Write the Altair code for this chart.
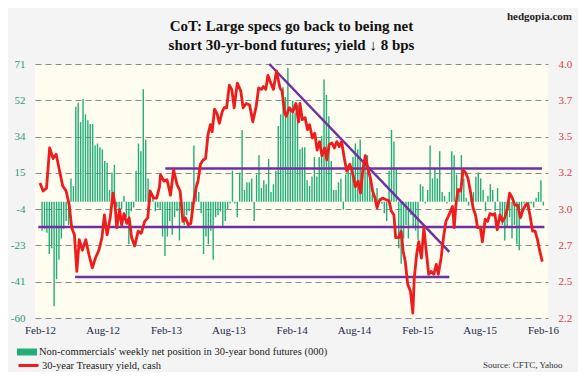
import altair as alt
import pandas as pd

# ---------------- data ----------------
title_lines = ["CoT: Large specs go back to being net",
               "short 30-yr-bond futures; yield \u2193 8 bps"]
site_label = ["hedgopia.com"]
source_label = "Source: CFTC, Yahoo"
bar_label = "Non-commercials' weekly net position in 30-year bond futures (000)"
line_label = "30-year Treasury yield, cash"

# weekly net position (000 contracts), one value per week from bar_start
bar_start = "2012-02-07"
net_position = [
    -15, -14, -16, -27, -24, -54, -40, -30, -19, -14, -10, -12, 12, 8, 49, 51, 41, 53, 45, 42,
    40, 40, 29, 30, 28, 27, 21, 20, 6, 15, 19, -3, -6, -4, 3, -8, -22, -5, -3, 16,
    30, 26, 58, 32, 12, 5, 3, -5, -3, -4,
    -18, -28, -18, -10, -17, -8, -5, -20, -8, -12, -7, -5, -9, 29, 10, 5, -6, -27, -18, -22,
    -15, -30, -8, -7, -5, -13, -10, -4, -1, 16, -1, -8, 15, 37, 6, 10, 10, 12, -10, 14,
    24, 7, 11, 9, 22, 5, 9, 16, 39, 45, 59, 54, 69, 47,
    52, 46, 50, 27, 28, 28, 11, 8, 13, 23, 13, 23, 34, 63, 55, 44, 21, 6, 6, 10, 12,
    -4, 14, 19, 15, 23, 30, 27, 32, 17, 23, 24, 14, 4, 2, 7, 2, -1, -6, -10, 16,
    37, 31, 17, -24, -32, -19, -12, -19, -7, -13,
    -15, -20, 9, 8, -1, 6, 29, 12, 17, 12, 26, 5, 3, -1, 5, 26, 24, 14, 5, 24,
    12, 2, -2, 5, 5, 13, 15, 12, 6, -5, 3, 9, 6, -5, 7, -8, -12, -20, -13, -8,
    -19, -12, -22, -25, -8, -1, -1, -5, -1, -3, 2, 5, 11, -2,
]

# 30-year yield: days after yield_base, and the yield (%)
yield_base = "2012-02-01"
yield_days = [
    0, 9, 19, 28, 38, 47, 57, 66, 76, 85, 92, 100, 107, 114, 123, 133, 142, 152, 161, 171,
    180, 187, 195, 204, 212, 218, 223, 231, 237, 244, 252, 259, 266, 275, 285, 294, 304, 313, 320, 330,
    339, 347,
    350, 360, 369, 379, 388, 398, 407, 415, 422, 431, 438, 445, 453, 459, 466, 474, 481, 488, 495, 500,
    507, 514, 521, 529, 535, 542, 550, 557, 564, 573, 583, 590, 599, 609, 618, 628, 635, 643, 649, 656,
    662, 668, 678, 687, 697, 703, 711,
    715, 724, 734, 743, 751, 755, 762, 770, 777, 783, 791, 798, 805, 812, 819, 827, 833, 840, 848, 855,
    862, 869, 876, 884, 891, 900, 909, 916, 924, 931, 938, 945, 952, 960, 966, 973, 979, 985, 995, 1004,
    1014, 1020, 1028, 1033, 1042, 1049, 1055, 1061, 1068, 1076, 1083,
    1087, 1094, 1100, 1108, 1115, 1122, 1129, 1136, 1144, 1151, 1157, 1165, 1172, 1179, 1186, 1193, 1198, 1203, 1208, 1214,
    1222, 1229, 1236, 1243, 1250, 1258, 1265, 1271, 1279, 1285, 1293, 1300, 1307, 1315, 1321, 1328, 1336, 1343, 1350, 1357,
    1364, 1372, 1379, 1388, 1395, 1402, 1410, 1416, 1423, 1431, 1438, 1445, 1452, 1459,
]
yield_pct = [
    3.157, 3.10, 3.12, 3.405, 3.33, 3.36, 3.24, 3.135, 3.10, 3.00, 2.84, 2.79, 2.53, 2.755, 2.68, 2.755, 2.65, 2.555, 2.625, 2.68,
    2.77, 2.93, 2.79, 2.91, 3.085, 3.00, 2.84, 2.97, 2.86, 2.94, 2.87, 2.91, 2.77, 2.71, 2.815, 2.80, 2.885, 2.91, 3.10, 3.05,
    3.05, 3.13,
    3.215, 3.17, 3.18, 3.07, 3.25, 3.145, 3.10, 2.885, 2.91, 2.86, 2.87, 3.00, 3.12, 3.17, 3.29, 3.32, 3.33, 3.50, 3.57, 3.52,
    3.68, 3.65, 3.58, 3.66, 3.69, 3.69, 3.85, 3.82, 3.69, 3.865, 3.81, 3.69, 3.72, 3.71, 3.59, 3.70, 3.83, 3.82, 3.84, 3.82,
    3.92, 3.88, 3.82, 3.95, 3.83, 3.81, 3.65,
    3.63, 3.69, 3.66, 3.72, 3.59, 3.72, 3.605, 3.62, 3.535, 3.57, 3.475, 3.51, 3.39, 3.45, 3.35, 3.405, 3.32, 3.43, 3.44, 3.405,
    3.45, 3.415, 3.45, 3.33, 3.24, 3.29, 3.215, 3.13, 3.17, 3.085, 3.26, 3.35, 3.26, 3.19, 3.10, 3.05, 2.98, 3.03, 3.05, 3.04,
    3.03, 2.96, 2.93, 2.77, 2.77, 2.815, 2.67, 2.60, 2.44, 2.39, 2.235,
    2.48, 2.65, 2.74, 2.625, 2.84, 2.67, 2.51, 2.53, 2.51, 2.58, 2.51, 2.625, 2.77, 2.885, 2.92, 2.96, 2.99, 2.84, 3.00, 3.11,
    3.10, 3.25, 3.23, 3.19, 3.10, 2.98, 2.93, 2.84, 2.84, 2.74, 2.90, 2.885, 2.94, 2.93, 2.94, 2.825, 2.93, 2.885, 2.91, 2.97,
    3.085, 3.05, 3.00, 3.00, 2.91, 2.96, 3.00, 3.01, 2.93, 2.815, 2.815, 2.755, 2.67, 2.60,
]

# purple trend lines (on the yield scale)
trend_start = ["2013-01-30", "2012-01-27", "2012-05-13", "2013-11-28"]
trend_end = ["2016-01-29", "2016-02-05", "2015-05-05", "2015-05-05"]
trend_y0 = [3.26, 2.845, 2.49, 4.0]
trend_y1 = [3.26, 2.845, 2.49, 2.668]

# axes
x_tick_months = [(2012, 2), (2012, 8), (2013, 2), (2013, 8), (2014, 2),
                 (2014, 8), (2015, 2), (2015, 8), (2016, 2)]
left_domain = [-60, 71]
right_domain = [2.2, 4.0]
n_grid = 8

# ---------------- frames ----------------
bar_df = pd.DataFrame({
    "date": pd.date_range(bar_start, periods=len(net_position), freq="7D").strftime("%Y-%m-%d"),
    "net": net_position,
    "series": bar_label,
})
line_df = pd.DataFrame({
    "date": (pd.Timestamp(yield_base) + pd.to_timedelta(yield_days, unit="D")).strftime("%Y-%m-%d"),
    "yld": yield_pct,
    "series": line_label,
})
trend_df = pd.DataFrame({"start": trend_start, "end": trend_end, "y0": trend_y0, "y1": trend_y1})
site_df = pd.DataFrame({"t": site_label})

left_ticks = [left_domain[0] + k * (left_domain[1] - left_domain[0]) / (n_grid - 1) for k in range(n_grid)]
right_ticks = [right_domain[0] + k * (right_domain[1] - right_domain[0]) / (n_grid - 1) for k in range(n_grid)]

SERIF = "Liberation Serif"
GREEN = "#22AE78"
RED = "#EE1C1C"
PURPLE = "#7030A0"

x_scale = alt.Scale(type="utc", domain=[alt.DateTime(year=2012, month=2, date=1, utc=True),
                                        alt.DateTime(year=2016, month=2, date=1, utc=True)])
x_axis = alt.Axis(
    values=[alt.DateTime(year=y, month=m, date=1, utc=True) for y, m in x_tick_months],
    labelExpr="utcFormat(datum.value, '%b-%y')",
    grid=False, ticks=False, domain=False,
    labelFont=SERIF, labelFontSize=11, labelColor="#1C2A4A", labelPadding=6,
    labelOverlap=False,
    title=source_label, titleFont=SERIF, titleFontSize=9, titleFontWeight="normal",
    titleColor="#333333", titleX=527, titleY=46, titleAlign="right", titleBaseline="middle",
)


def xenc(field):
    return alt.X(field, type="temporal", scale=x_scale, axis=x_axis)


bars = alt.Chart(bar_df).mark_bar(size=1.4).encode(
    x=xenc("date"),
    y=alt.Y("net:Q", scale=alt.Scale(domain=left_domain, nice=False, zero=False),
            axis=alt.Axis(values=left_ticks, labelExpr="'' + round(datum.value)",
                          grid=True, gridDash=[6, 4], gridColor="#8A8A8A", gridWidth=1,
                          ticks=False, domain=False, labelFont=SERIF, labelFontSize=11,
                          labelColor="#2E9B74", labelPadding=10, title=None, orient="left")),
    y2=alt.datum(0),
    fill=alt.Fill("series:N", scale=alt.Scale(domain=[bar_label], range=[GREEN]),
                  legend=alt.Legend(title=None, orient="none", legendX=-18, legendY=278,
                                    symbolType="M-1,-0.35H1V0.35H-1Z", symbolSize=400,
                                    symbolStrokeWidth=0, labelFont=SERIF, labelFontSize=10.5,
                                    labelColor="#1a1a1a", labelOffset=2, labelLimit=0, padding=0)),
)

rules = alt.Chart(trend_df).mark_rule(color=PURPLE, strokeWidth=2.5).encode(
    x=xenc("start"),
    x2="end:T",
    y=alt.Y("y0:Q", scale=alt.Scale(domain=right_domain, nice=False, zero=False), axis=None),
    y2="y1:Q",
)

line = alt.Chart(line_df).mark_line(strokeWidth=2.8, strokeJoin="round").encode(
    x=xenc("date"),
    y=alt.Y("yld:Q", scale=alt.Scale(domain=right_domain, nice=False, zero=False),
            axis=alt.Axis(values=right_ticks, labelExpr="format(datum.value, '.1f')",
                          grid=False, ticks=False, domain=False, labelFont=SERIF,
                          labelFontSize=11, labelColor="#E0393E", labelPadding=10,
                          title=None, orient="right")),
    stroke=alt.Stroke("series:N", scale=alt.Scale(domain=[line_label], range=[RED]),
                      legend=alt.Legend(title=None, orient="none", legendX=-18, legendY=290,
                                        symbolType="stroke", symbolSize=400, symbolStrokeWidth=3,
                                        labelFont=SERIF, labelFontSize=10.5, labelColor="#1a1a1a",
                                        labelOffset=2, labelLimit=0, padding=0)),
)

site = alt.Chart(site_df).mark_text(align="right", baseline="middle", font=SERIF,
                                    fontSize=11, fontWeight="bold", color="#222222").encode(
    x=alt.value(537), y=alt.value(-47.5), text="t:N")

chart = alt.layer(bars, rules, line, site).resolve_scale(y="independent").properties(
    width=513, height=254,
    autosize=alt.AutoSizeParams(type="none"),
    padding={"left": 27, "top": 56, "right": 30, "bottom": 54},
    background="#F4F4F4",
    title=alt.TitleParams(text=title_lines, font=SERIF, fontSize=15, fontWeight="bold",
                          color="#111111", anchor="middle", frame="group", lineHeight=19,
                          offset=-42),
).configure_view(fill="#FEFDF0", stroke=None)

chart.save("out.html", embed_options={"renderer": "svg", "actions": False})
